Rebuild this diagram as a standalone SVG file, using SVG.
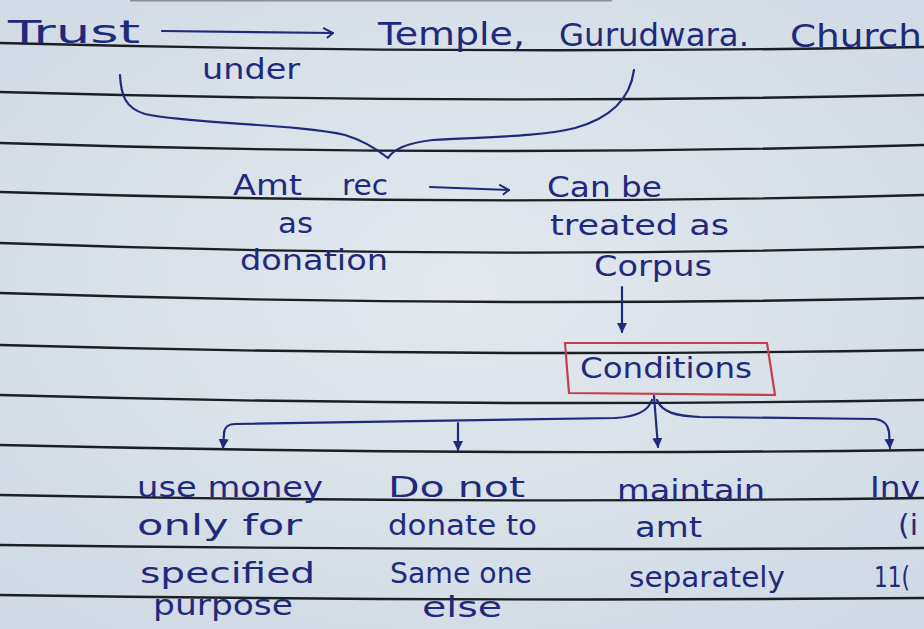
<svg xmlns="http://www.w3.org/2000/svg" width="924" height="629" viewBox="0 0 924 629">
<style>
.t{font-family:"DejaVu Sans","Noto Sans",sans-serif;font-size:28px;fill:#1f2a7c}
.big{font-size:32px}
.rule{fill:none;stroke:#1b1e22;stroke-width:2.4}
.ink{fill:none;stroke:#1f2a7c;stroke-width:2.2;stroke-linecap:round;stroke-linejoin:round}
.box{fill:none;stroke:#c43e4e;stroke-width:2.2}
</style>
<defs>
<radialGradient id="paper" cx="0.5" cy="0.45" r="0.75">
<stop offset="0" stop-color="#e2e8ee"/>
<stop offset="1" stop-color="#cfd9e4"/>
</radialGradient>
<marker id="open" viewBox="0 0 12 12" refX="11" refY="6" markerWidth="12" markerHeight="12" markerUnits="userSpaceOnUse" orient="auto">
<path d="M1,1 L11,6 L5,11" fill="none" stroke="#1f2a7c" stroke-width="2"/>
</marker>
<marker id="solid" viewBox="0 0 10 12" refX="9" refY="6" markerWidth="10" markerHeight="12" markerUnits="userSpaceOnUse" orient="auto">
<path d="M0,1 L10,6 L0,11 Z" fill="#1f2a7c"/>
</marker>
</defs>
<rect width="924" height="629" fill="url(#paper)"/>
<g id="ruled-lines">
<line x1="130" y1="0.8" x2="612" y2="0.8" stroke="#2a2e33" stroke-width="1.4" stroke-opacity="0.45"/>
<path class="rule" d="M0,43 Q462,55 924,47"/>
<path class="rule" d="M0,92 Q462,105 924,95"/>
<path class="rule" d="M0,143 Q462,158 924,145"/>
<path class="rule" d="M0,192 Q462,207 924,195"/>
<path class="rule" d="M0,243 Q462,260 924,247"/>
<path class="rule" d="M0,293 Q462,308 924,298"/>
<path class="rule" d="M0,345 Q462,358 924,350"/>
<path class="rule" d="M0,395 Q462,408 924,400"/>
<path class="rule" d="M0,445 Q462,456 924,450"/>
<path class="rule" d="M0,495 Q462,504 924,498"/>
<path class="rule" d="M0,545 Q462,551 924,548"/>
<path class="rule" d="M0,595 Q462,602 924,598"/>
</g>
<g id="connectors">
<path class="ink" d="M162,31 L333,33" marker-end="url(#open)"/>
<path class="ink" d="M120,75 C121,95 125,108 145,114 C190,124 300,124 345,135 C365,141 378,150 388,158 C393,150 405,143 433,140 C480,137 540,137 575,128 C610,118 630,100 634,70"/>
<path class="ink" d="M430,187 L509,190" marker-end="url(#open)"/>
<path class="ink" d="M622,287 L622,332" marker-end="url(#solid)"/>
<path class="ink" d="M654,396 L658,447" marker-end="url(#solid)"/>
<path class="ink" d="M652,400 C648,412 635,417 615,418 L235,424 C228,424 224,428 224,434 L223,448" marker-end="url(#solid)"/>
<path class="ink" d="M657,400 C662,412 675,416 700,417 L875,419 C884,420 888,425 889,432 L890,448" marker-end="url(#solid)"/>
<path class="ink" d="M458,423 L458,450" marker-end="url(#solid)"/>
</g>
<g id="trust">
<text class="t big" x="8" y="43" textLength="132" lengthAdjust="spacingAndGlyphs">Trust</text>
</g>
<g id="under-label">
<text class="t" x="202" y="79" textLength="98" lengthAdjust="spacingAndGlyphs">under</text>
</g>
<g id="places">
<text class="t big" x="378" y="45" textLength="147" lengthAdjust="spacingAndGlyphs">Temple,</text>
<text class="t big" x="559" y="46" textLength="190" lengthAdjust="spacingAndGlyphs">Gurudwara.</text>
<text class="t big" x="790" y="47" textLength="132" lengthAdjust="spacingAndGlyphs">Church</text>
</g>
<g id="amt-rec">
<text class="t" x="233" y="195" textLength="69" lengthAdjust="spacingAndGlyphs">Amt</text>
<text class="t" x="342" y="195" textLength="46" lengthAdjust="spacingAndGlyphs">rec</text>
<text class="t" x="278" y="233" textLength="35" lengthAdjust="spacingAndGlyphs">as</text>
<text class="t" x="240" y="270" textLength="148" lengthAdjust="spacingAndGlyphs">donation</text>
</g>
<g id="corpus">
<text class="t" x="547" y="197" textLength="115" lengthAdjust="spacingAndGlyphs">Can be</text>
<text class="t" x="550" y="235" textLength="179" lengthAdjust="spacingAndGlyphs">treated as</text>
<text class="t" x="594" y="276" textLength="118" lengthAdjust="spacingAndGlyphs">Corpus</text>
</g>
<g id="conditions">
<polygon class="box" points="565,343 767,343 775,395 569,393"/>
<text class="t" x="580" y="378" textLength="172" lengthAdjust="spacingAndGlyphs">Conditions</text>
</g>
<g id="cond-use-money">
<text class="t" x="137" y="497" textLength="186" lengthAdjust="spacingAndGlyphs">use money</text>
<text class="t" x="137" y="535" textLength="165" lengthAdjust="spacingAndGlyphs">only for</text>
<text class="t" x="140" y="583" textLength="175" lengthAdjust="spacingAndGlyphs">specified</text>
<text class="t" x="153" y="615" textLength="140" lengthAdjust="spacingAndGlyphs">purpose</text>
</g>
<g id="cond-do-not-donate">
<text class="t" x="388" y="497" textLength="137" lengthAdjust="spacingAndGlyphs">Do not</text>
<text class="t" x="388" y="535" textLength="149" lengthAdjust="spacingAndGlyphs">donate to</text>
<text class="t" x="390" y="583" textLength="142" lengthAdjust="spacingAndGlyphs">Same one</text>
<text class="t" x="422" y="617" textLength="80" lengthAdjust="spacingAndGlyphs">else</text>
</g>
<g id="cond-maintain">
<text class="t" x="617" y="500" textLength="148" lengthAdjust="spacingAndGlyphs">maintain</text>
<text class="t" x="635" y="537" textLength="67" lengthAdjust="spacingAndGlyphs">amt</text>
<text class="t" x="629" y="587" textLength="156" lengthAdjust="spacingAndGlyphs">separately</text>
</g>
<g id="cond-invest">
<text class="t" x="870" y="497" textLength="50" lengthAdjust="spacingAndGlyphs">Inv</text>
<text class="t" x="898" y="535" textLength="20" lengthAdjust="spacingAndGlyphs">(i</text>
<text class="t" x="874" y="587" textLength="36" lengthAdjust="spacingAndGlyphs">11(</text>
</g>
</svg>
